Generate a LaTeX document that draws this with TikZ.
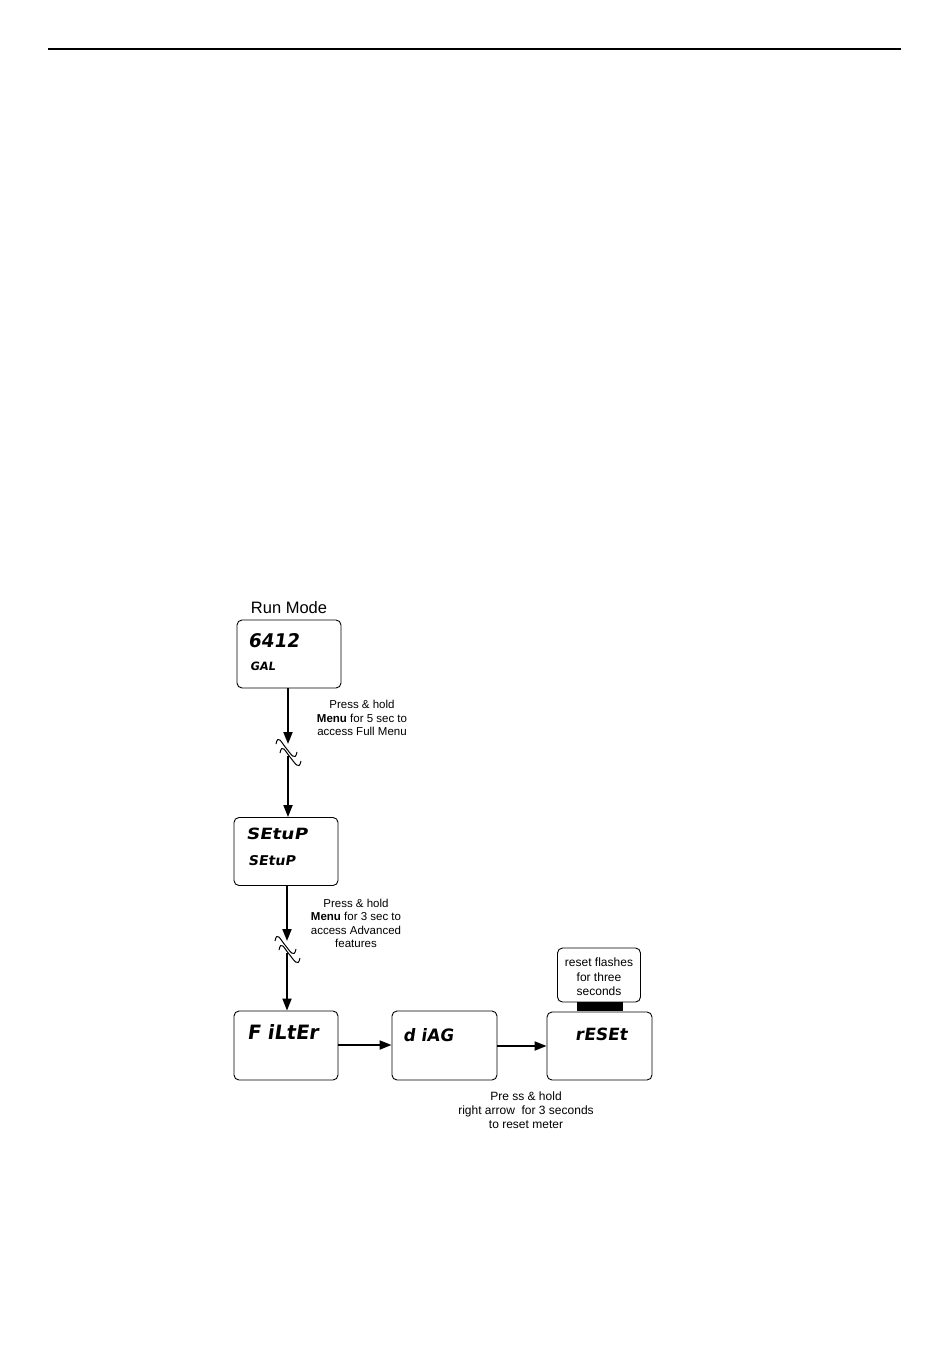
\documentclass[tikz,border=0pt]{standalone}
\usepackage{fontspec}
\setmainfont{Liberation Sans}
\newfontfamily\segfont[UprightFeatures={FakeSlant=0.15},BoldFeatures={FakeSlant=0.15}]{DejaVu Sans}
\usepackage{graphicx}
\usetikzlibrary{arrows.meta}
\newcommand{\segtxt}[3]{\resizebox{#1pt}{#2pt}{\segfont\bfseries #3}}
\begin{document}
\begin{tikzpicture}[x=1pt,y=-1pt,
  disp/.style={draw, line width=0.9pt, rounded corners=5pt, inner sep=0pt, fill=white},
  segt/.style={anchor=base west, inner sep=0pt},
  flow/.style={line width=1.9pt, -{Triangle[length=12pt,width=9pt]}},
  brkline/.style={line width=1pt},
  side/.style={align=center, inner sep=0pt, font=\fontsize{11.5}{13.5}\selectfont},
  note/.style={align=center, inner sep=0pt, font=\fontsize{12}{14.5}\selectfont}]
\useasboundingbox (0,0) rectangle (950,1372);
\fill[white] (0,0) rectangle (950,1372);

% header rule
\draw[line width=1.4pt] (48,49) -- (901,49);

% boxes
\node[disp, minimum width=104pt, minimum height=68pt] (b1) at (289,654) {};
\node[disp, minimum width=104pt, minimum height=68pt] (b2) at (286,851.5) {};
\node[disp, minimum width=104pt, minimum height=69pt] (b3) at (286,1045.5) {};
\node[disp, minimum width=105pt, minimum height=69pt] (b4) at (444.5,1045.5) {};
\node[disp, minimum width=105pt, minimum height=68pt] (b5) at (599.5,1046) {};

% note box and bar
\node[disp, minimum width=83pt, minimum height=54pt] (nb) at (599,975) {};
\node[note] (nt) at (599,977) {reset flashes\\for three\\seconds};
\node[fill=black, minimum width=46pt, minimum height=9pt, inner sep=0pt] (bar) at (600,1006.5) {};

% title
\node[inner sep=0pt, font=\fontsize{16.5}{18}\selectfont] (rm) at (289,608) {Run Mode};

% display texts
\node[segt] (t1) at (248,647) {\segtxt{51}{14}{6412}};
\node[segt] (t2) at (250,670) {\segtxt{25}{8.5}{GAL}};
\node[segt] (t3) at (246,839) {\segtxt{61}{11.5}{SEtuP}};
\node[segt] (t4) at (248,865) {\segtxt{47}{10}{SEtuP}};
\node[segt] (t5) at (247,1039) {\segtxt{71}{15}{F iLtEr}};
\node[segt] (t6) at (403,1041) {\segtxt{50}{13}{d iAG}};
\node[segt] (t7) at (575,1040) {\segtxt{52}{12.5}{rESEt}};

% side texts
\node[side] (s1) at (362,718) {Press \& hold\\\textbf{Menu} for 5 sec to\\access Full Menu};
\node[side] (s2) at (356,923.5) {Press \& hold\\\textbf{Menu} for 3 sec to\\access Advanced\\features};
\node[note, font=\fontsize{12}{14}\selectfont] (s3) at (526,1110.5) {Pre ss \& hold\\right arrow\ \ for 3 seconds\\to reset meter};

% first vertical connection with break
\coordinate (a1) at (288,744);
\coordinate (a1b) at (288,756);
\coordinate (k1) at (287,748);
\coordinate (k1b) at (291,757);
\draw[flow] (b1.south -| a1) -- (a1);
\foreach \k in {k1,k1b}
  \draw[brkline] ([xshift=-11pt,yshift=4pt]\k) .. controls +(2,-10) and +(-5,-6) .. ([xshift=-1pt]\k) .. controls +(5,6) and +(-2,10) .. ([xshift=10pt,yshift=-4pt]\k);
\draw[flow] (a1b) -- (b2.north -| a1b);

% second vertical connection with break
\coordinate (a2) at (287,941);
\coordinate (a2b) at (287,953);
\coordinate (k2) at (286,945);
\coordinate (k2b) at (290,954);
\draw[flow] (b2.south -| a2) -- (a2);
\foreach \k in {k2,k2b}
  \draw[brkline] ([xshift=-11pt,yshift=4pt]\k) .. controls +(2,-10) and +(-5,-6) .. ([xshift=-1pt]\k) .. controls +(5,6) and +(-2,10) .. ([xshift=10pt,yshift=-4pt]\k);
\draw[flow] (a2b) -- (b3.north -| a2b);

% horizontal connections
\draw[flow] (b3.east |- 0,1045) -- (b4.west |- 0,1045);
\draw[flow] (b4.east |- 0,1046) -- (b5.west |- 0,1046);
\end{tikzpicture}
\end{document}
